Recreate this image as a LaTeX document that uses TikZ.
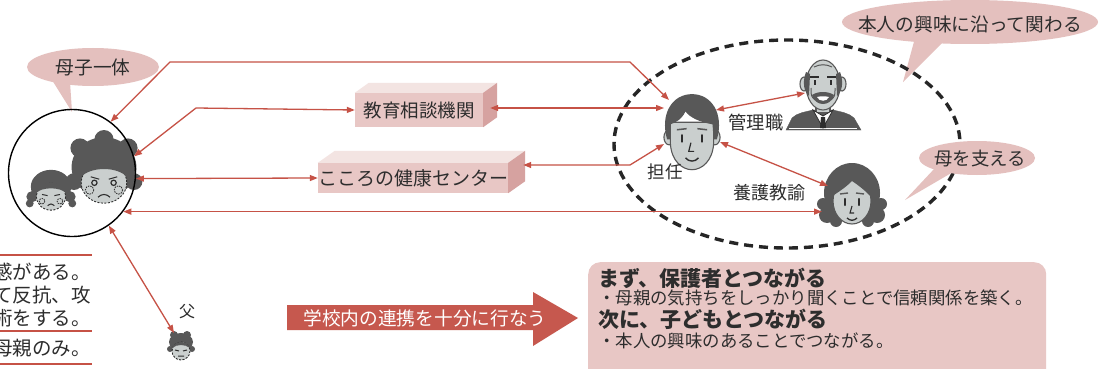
\documentclass[tikz,border=0pt]{standalone}
\usepackage{fontspec}
\newfontfamily\jp{Noto Sans CJK JP}
\usetikzlibrary{arrows.meta}

\definecolor{linkred}{RGB}{198,82,70}
\definecolor{arrowfill}{RGB}{198,88,78}
\definecolor{pinkfill}{RGB}{232,199,197}
\definecolor{pinkside}{RGB}{214,162,160}
\definecolor{pinktop}{RGB}{243,228,226}
\definecolor{bubblepink}{RGB}{228,192,190}
\definecolor{inkgray}{RGB}{45,45,45}
\definecolor{skin}{RGB}{202,207,206}
\definecolor{hairgray}{RGB}{88,88,88}

\tikzset{
  conn/.style={draw=linkred, line width=1.3pt, >={Triangle[length=8pt,width=6pt]}, <->},
  lbl/.style={font=\jp\fontsize{18}{20}\selectfont, text=inkgray, inner sep=0pt},
  jpsize/.style={font=\jp\fontsize{#1}{#1}\selectfont},
  box3d/.style={fill=pinkfill, inner sep=0pt, text=inkgray},
  bubble/.style={fill=bubblepink},
  teamring/.style={draw=black!85, line width=3.4pt, dash pattern=on 9pt off 6pt},
  sheetline/.style={draw=linkred, line width=1.2pt},
  skinface/.style={fill=skin, draw=hairgray, line width=1.1pt},
  sadface/.style={fill=skin, draw=inkgray, line width=0.9pt, dash pattern=on 2pt off 1.5pt},
  % homeroom teacher
  teacherpic/.pic={
    \filldraw[skinface] (-21,4) ellipse [x radius=5, y radius=7];
    \filldraw[skinface] (21,4) ellipse [x radius=5, y radius=7];
    \filldraw[skinface] (-20,-10) -- (-20,10) .. controls (-19,26) and (-9,34) .. (0,34)
      .. controls (9,34) and (19,26) .. (20,10) -- (20,-10) -- cycle;
    \fill[hairgray] (-23,6) .. controls (-30,-18) and (-18,-36) .. (0,-36)
      .. controls (18,-36) and (30,-18) .. (23,6) -- (20,6) -- (19,-8)
      .. controls (8,-10) and (-2,-14) .. (-6,-20) .. controls (-10,-12) and (-15,-10) .. (-20,-8)
      -- (-20,6) -- cycle;
    \draw[hairgray, line width=1.5pt] (-14,-3) -- (-5,-4) (5,-4) -- (14,-3);
    \draw[inkgray, line width=2.4pt, line cap=round] (-9,2) -- (-9,8) (9,2) -- (9,8);
    \draw[inkgray, line width=1.2pt] (-1,9) -- (-3,17) -- (2,17);
    \draw[inkgray, line width=1.4pt] (-6,23) .. controls (-3,27) and (3,27) .. (6,23);
  },
  % principal
  managerpic/.pic={
    \filldraw[fill=hairgray, draw=hairgray] (-37,44) -- (-31,32) .. controls (-26,27) and (-18,26) .. (-10,24)
      -- (10,24) .. controls (18,26) and (26,27) .. (31,32) -- (38,44) -- cycle;
    \draw[white, line width=0.8pt] (-34,42) -- (34,42);
    \filldraw[skinface] (-7,16) rectangle (7,27);
    \filldraw[fill=white, draw=inkgray, line width=0.8pt] (-10,24) -- (0,42) -- (10,24) -- (0,30) -- cycle;
    \fill[inkgray] (-2,31) -- (2,31) -- (3,42) -- (-3,42) -- cycle;
    \filldraw[skinface] (-19,-2) ellipse [x radius=4, y radius=7];
    \filldraw[skinface] (19,-2) ellipse [x radius=4, y radius=7];
    \filldraw[skinface] (0,-1) ellipse [x radius=17, y radius=25];
    \fill[hairgray] (-17,-14) .. controls (-21,-4) and (-19,6) .. (-14,10) -- (-13,-12) -- cycle;
    \fill[hairgray] (17,-14) .. controls (21,-4) and (19,6) .. (14,10) -- (13,-12) -- cycle;
    \draw[hairgray, line width=1pt] (-9,-19) .. controls (-3,-22) and (3,-22) .. (9,-19);
    \draw[inkgray, line width=1.6pt] (-13,-9) -- (-4,-9) (4,-9) -- (13,-9);
    \draw[inkgray, line width=1.8pt] (-8,-6) -- (-8,-1) (8,-6) -- (8,-1);
    \draw[hairgray, line width=1pt] (-12,2) .. controls (-12,10) .. (-8,14) (12,2) .. controls (12,10) .. (8,14);
    \fill[hairgray] (-11,9) .. controls (-5,5) and (5,5) .. (11,9) .. controls (8,21) and (-8,21) .. (-11,9) -- cycle;
    \fill[white] (-6,11) .. controls (-2,10) and (2,10) .. (6,11) .. controls (4,16) and (-4,16) .. (-6,11) -- cycle;
  },
  % school nurse
  nursepic/.pic={
    \fill[hairgray] (0,-2) ellipse [x radius=28, y radius=30];
    \fill[hairgray] (-25,20) circle (8) (25,20) circle (8) (-29,9) circle (6) (29,9) circle (6)
      (-16,26) circle (6) (16,26) circle (6);
    \filldraw[skinface] (0,6) ellipse [x radius=19, y radius=23];
    \fill[hairgray] (-21,2) .. controls (-22,-22) and (-8,-30) .. (4,-29)
      .. controls (18,-28) and (24,-14) .. (21,4) .. controls (14,-4) and (6,-10) .. (0,-14)
      .. controls (-8,-6) and (-14,-3) .. (-21,2) -- cycle;
    \draw[hairgray, line width=1.4pt] (-12,-1) -- (-4,-2) (4,-2) -- (12,-1);
    \draw[inkgray, line width=2.3pt, line cap=round] (-7,4) -- (-7,10) (7,4) -- (7,10);
    \draw[inkgray, line width=1.1pt] (0,11) -- (-2,18) -- (2,18);
    \draw[inkgray, line width=1.3pt] (-5,23) .. controls (-2,26) and (2,26) .. (5,23);
  },
  % mother inside the family circle
  motherpic/.pic={
    \fill[hairgray] (0,-4) ellipse [x radius=27, y radius=25];
    \fill[hairgray] (-25,8) circle (7) (25,8) circle (7) (-20,-20) circle (8) (20,-20) circle (8) (0,-27) circle (8);
    \filldraw[sadface] (0,9) ellipse [x radius=19, y radius=17];
    \fill[hairgray] (-20,5) .. controls (-18,-14) and (18,-16) .. (20,5)
      .. controls (12,-5) and (-12,-5) .. (-20,5) -- cycle;
    \draw[inkgray, line width=1pt] (-11,4) -- (-4,6) (4,6) -- (11,4);
    \draw[inkgray, line width=1.2pt] (-8,9) circle (2.2) (8,9) circle (2.2);
    \draw[inkgray, line width=0.8pt, dash pattern=on 1.5pt off 1pt] (-12,15) circle (3.5) (12,15) circle (3.5);
    \draw[inkgray, line width=1.1pt] (-5,21) .. controls (-2,18) and (2,18) .. (5,21);
  },
  % child inside the family circle
  childpic/.pic={
    \fill[hairgray] (0,-3) ellipse [x radius=18, y radius=15];
    \fill[hairgray] (-17,6) circle (5) (17,6) circle (5) (-19,12) circle (3.5) (19,12) circle (3.5);
    \filldraw[sadface] (0,6) ellipse [x radius=13, y radius=12];
    \fill[hairgray] (-14,3) .. controls (-12,-10) and (12,-10) .. (14,3)
      .. controls (8,-3) and (-8,-3) .. (-14,3) -- cycle;
    \draw[inkgray, line width=1pt] (-8,4) -- (-3,5) (3,5) -- (8,4);
    \draw[inkgray, line width=0.8pt, dash pattern=on 1.5pt off 1pt] (-8,10) circle (2.5) (8,10) circle (2.5);
    \draw[inkgray, line width=1pt] (-3,14) .. controls (0,12) .. (3,14);
  },
  % father
  fatherpic/.pic={
    \fill[hairgray] (0,-5) ellipse [x radius=12, y radius=9];
    \fill[hairgray] (-11,2) circle (3) (11,2) circle (3) (-7,-12) circle (4) (6,-12) circle (4);
    \filldraw[sadface] (0,4) ellipse [x radius=9, y radius=9];
    \fill[hairgray] (-9,1) .. controls (-6,-7) and (6,-7) .. (9,1) .. controls (4,-3) and (-4,-3) .. (-9,1) -- cycle;
    \draw[inkgray, line width=1pt] (-6,3) -- (-2,4) (2,4) -- (6,3) (-3,9) -- (3,9);
  },
}

\begin{document}
\begin{tikzpicture}[x=1pt, y=-1pt]
\useasboundingbox (0,0) rectangle (1102,369);
\clip (0,0) rectangle (1102,369);
\fill[white] (0,0) rectangle (1102,369);

% ---------- left: mother and child ----------
\fill[bubble] (52,80) -- (72,112) -- (70,82) -- cycle;
\fill[bubble] (93,67) ellipse [x radius=66, y radius=19];
\node[lbl, jpsize=18.7] (bsingle) at (93,67) {母子一体};

\pic[scale=1.12] at (51,190) {childpic};
\pic[scale=1.2] at (104,172) {motherpic};
\node[draw=black, line width=1.4pt, circle, minimum size=127pt, inner sep=0pt] (mc) at (72,173) {};

\pic at (181,347) {fatherpic};
\node[lbl, jpsize=16] (father) at (187,312) {父};
\coordinate (fa) at (174,333);

% notes on the left
\draw[sheetline] (-5,255) -- (92,255);
\draw[sheetline] (-5,331) -- (92,331);
\draw[sheetline] (-5,364) -- (92,364);
\node[lbl, jpsize=19.5, anchor=east] (note1) at (91,272) {感がある。};
\node[lbl, jpsize=19.5, anchor=east] (note2) at (91,295) {て反抗、攻};
\node[lbl, jpsize=19.5, anchor=east] (note3) at (91,318) {術をする。};
\node[lbl, jpsize=19.5, anchor=east] (note4) at (91,348) {母親のみ。};

% ---------- support agencies ----------
\node[box3d, minimum width=128pt, minimum height=34pt, jpsize=18.5] (b1) at (419,110) {教育相談機関};
\fill[pinktop] (b1.north west) -- ([shift={(14,-10)}]b1.north west) -- ([shift={(14,-10)}]b1.north east) -- (b1.north east) -- cycle;
\fill[pinkside] (b1.north east) -- ([shift={(14,-10)}]b1.north east) -- ([shift={(14,-10)}]b1.south east) -- (b1.south east) -- cycle;

\node[box3d, minimum width=190pt, minimum height=30pt, jpsize=19] (b2) at (413,178) {こころの健康センター};
\fill[pinktop] (b2.north west) -- ([shift={(17,-12)}]b2.north west) -- ([shift={(17,-12)}]b2.north east) -- (b2.north east) -- cycle;
\fill[pinkside] (b2.north east) -- ([shift={(17,-12)}]b2.north east) -- ([shift={(17,-12)}]b2.south east) -- (b2.south east) -- cycle;

% ---------- school team ----------
\fill[bubble] (915,38) -- (903,82) -- (945,40) -- cycle;
\fill[bubble] (970,22) ellipse [x radius=128, y radius=22];
\node[lbl, jpsize=18.7] (binterest) at (970,24) {本人の興味に沿って関わる};

\draw[teamring] (787,144) ellipse [x radius=173, y radius=104];

\fill[bubble] (935,168) -- (905,200) -- (953,172) -- cycle;
\fill[bubble] (977,158) ellipse [x radius=58, y radius=17];
\node[lbl, jpsize=18.4] (bsupport) at (980,159) {母を支える};

\pic[scale=1.08] at (692,133) {teacherpic};
\pic at (823,86) {managerpic};
\pic at (852,195) {nursepic};
\node[lbl, jpsize=17.5] (tname) at (665,172) {担任};
\node[lbl, jpsize=18.3] (mname) at (756,123) {管理職};
\node[lbl] (nname) at (769,193) {養護教諭};

\coordinate (t1) at (669,100);
\coordinate (t2) at (664,108);
\coordinate (t3) at (664,144);
\coordinate (t4) at (716,110);
\coordinate (t5) at (720,142);
\coordinate (m1) at (805,93);
\coordinate (n1) at (822,211);
\coordinate (n2) at (828,186);
\coordinate (k1) at (170,62);
\coordinate (k2) at (630,62);
\coordinate (k3) at (196,108);
\coordinate (k4) at (630,165);

% ---------- connectors ----------
\draw[conn] (mc.53) -- (k1) -- (k2) -- (t1);
\draw[conn] (mc.15) -- (k3) -- (b1.west);
\draw[conn] ([shift={(7,-2)}]b1.east) -- (t2);
\draw[conn] (mc.-5) -- (b2.west);
\draw[conn] ([shift={(15,-13)}]b2.east) -- (k4) -- (t3);
\draw[conn] (mc.-37) -- (mc.-37 -| n1);
\draw[conn] (mc.-55) -- (fa);
\draw[conn] (t4) -- (m1);
\draw[conn] (t5) -- (n2);

% ---------- bottom: cooperation arrow and summary ----------
\fill[arrowfill] (287,305) -- (533,305) -- (533,292) -- (578,318) -- (533,346) -- (533,330) -- (287,330) -- cycle;
\node[jpsize=18.7, text=white, inner sep=0pt] (coop) at (425,318) {学校内の連携を十分に行なう};

\node[fill=pinkfill, rounded corners=12pt, minimum width=458pt, minimum height=130pt, anchor=north west, inner sep=0pt] (summary) at (588,262) {};
\node[text=inkgray, inner sep=0pt, font=\jp\bfseries\fontsize{21}{21}\selectfont, anchor=west] (s1) at (598,278) {まず、保護者とつながる};
\node[text=inkgray, inner sep=0pt, jpsize=17.4, anchor=west] (s2) at (598,298) {・母親の気持ちをしっかり聞くことで信頼関係を築く。};
\node[text=inkgray, inner sep=0pt, font=\jp\bfseries\fontsize{21}{21}\selectfont, anchor=west] (s3) at (598,319) {次に、子どもとつながる};
\node[text=inkgray, inner sep=0pt, jpsize=17.4, anchor=west] (s4) at (598,341) {・本人の興味のあることでつながる。};
\end{tikzpicture}
\end{document}
